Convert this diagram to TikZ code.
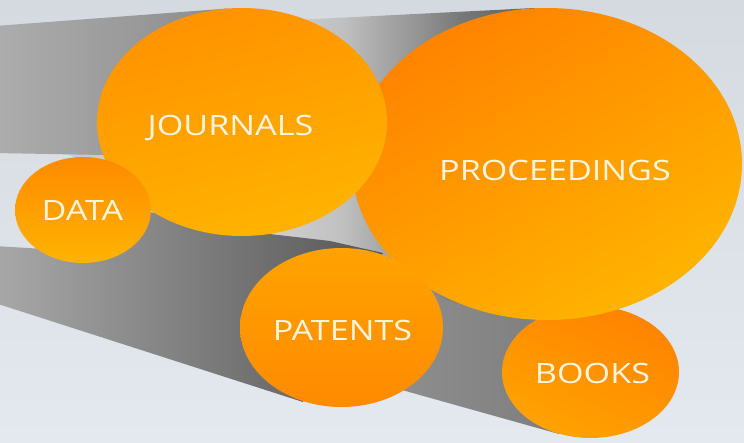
\documentclass[tikz,border=0pt]{standalone}
\usepackage{fontspec}
\usetikzlibrary{shapes.geometric}
\newfontfamily\labfont[FakeStretch=1.22]{Open Sans}
\definecolor{bgtop}{HTML}{D4DADF}
\definecolor{bgbot}{HTML}{E3E9EF}
\definecolor{labtxt}{HTML}{FFF4DE}
\definecolor{pb0}{HTML}{C6C6C6}
\definecolor{pb1}{HTML}{D2D2D2}
\definecolor{pb2}{HTML}{C0C0C0}
\definecolor{pb3}{HTML}{A8A8A8}
\definecolor{pb4}{HTML}{969696}
\definecolor{pb5}{HTML}{767676}
\definecolor{pb6}{HTML}{5C5C5C}
\definecolor{jbL}{HTML}{ADADAD}
\definecolor{jbR}{HTML}{8A8A8A}
\definecolor{dbL}{HTML}{A8A8A8}
\definecolor{dbR}{HTML}{565656}
\definecolor{bbL}{HTML}{B8B8B8}
\definecolor{bbR}{HTML}{7A7A7A}
\definecolor{orA}{HTML}{FF8300}
\definecolor{orB}{HTML}{FFB400}
\definecolor{orC}{HTML}{FF9200}
\definecolor{orD}{HTML}{FFA300}
\definecolor{orE}{HTML}{FF8A00}
\pgfdeclarehorizontalshading{procbeam}{100bp}{color(0bp)=(pb0); color(25bp)=(pb0); color(49.5bp)=(pb1); color(56.5bp)=(pb2); color(60bp)=(pb3); color(63bp)=(pb4); color(67.5bp)=(pb5); color(75bp)=(pb6); color(100bp)=(pb6)}
\begin{document}
\begin{tikzpicture}[x=1pt,y=-1pt,
  bubble/.style={ellipse, inner sep=0pt, draw=none},
  lab/.style={text=labtxt, font=\labfont\fontsize{28}{30}\selectfont, anchor=base, inner sep=0pt}]
\useasboundingbox (0,0) rectangle (744,442);
\shade[top color=bgtop, bottom color=bgbot] (0,0) rectangle (744,442);
% centres
\coordinate (cB) at (590.5,372);
\coordinate (cP) at (547,164);
\coordinate (cJ) at (242,122);
\coordinate (cT) at (341.5,327.5);
\coordinate (cD) at (83,210);
% books beam and bubble
\shade[left color=bbL, right color=bbR] (-5,255) -- (590,306) -- (cB) -- (559,434) -- (-5,276) -- cycle;
\node[bubble, minimum width=177pt, minimum height=132pt, top color=orA, bottom color=orD, shading angle=-25] (books) at (cB) {};
% proceedings beam and bubble
\shade[shading=procbeam] (-5,35) -- (535,8) -- (cP) -- (472,308) -- (270,240) -- (150,195) -- (60,150) -- (-5,140) -- cycle;
\node[bubble, minimum width=390pt, minimum height=312pt, top color=orA, bottom color=orB, shading angle=30] (proc) at (cP) {};
% journals beam
\shade[left color=jbL, right color=jbR] (-5,26) -- (228,8.5) -- (cJ) -- (103,155) -- (-5,153) -- cycle;
% patents (dark) beam
\shade[left color=dbL, right color=dbR] (-5,246) -- (60,250) -- (150,212) -- (270,234) -- (330,241) -- (383,253) -- (cT) -- (303,402) -- (-5,303) -- cycle;
% front bubbles
\node[bubble, minimum width=290pt, minimum height=228pt, top color=orC, bottom color=orB, shading angle=15] (journals) at (cJ) {};
\node[bubble, minimum width=203pt, minimum height=159pt, top color=orD, bottom color=orE] (patents) at (cT) {};
\node[bubble, minimum width=136pt, minimum height=106pt, top color=orE, bottom color=orB] (data) at (cD) {};
% labels
\node[lab] (tj) at (230.5,135) {JOURNALS};
\node[lab] (tp) at (555,180) {PROCEEDINGS};
\node[lab] (td) at (82.5,220) {DATA};
\node[lab] (tt) at (342.5,340) {PATENTS};
\node[lab] (tb) at (592.5,383) {BOOKS};
\end{tikzpicture}
\end{document}
